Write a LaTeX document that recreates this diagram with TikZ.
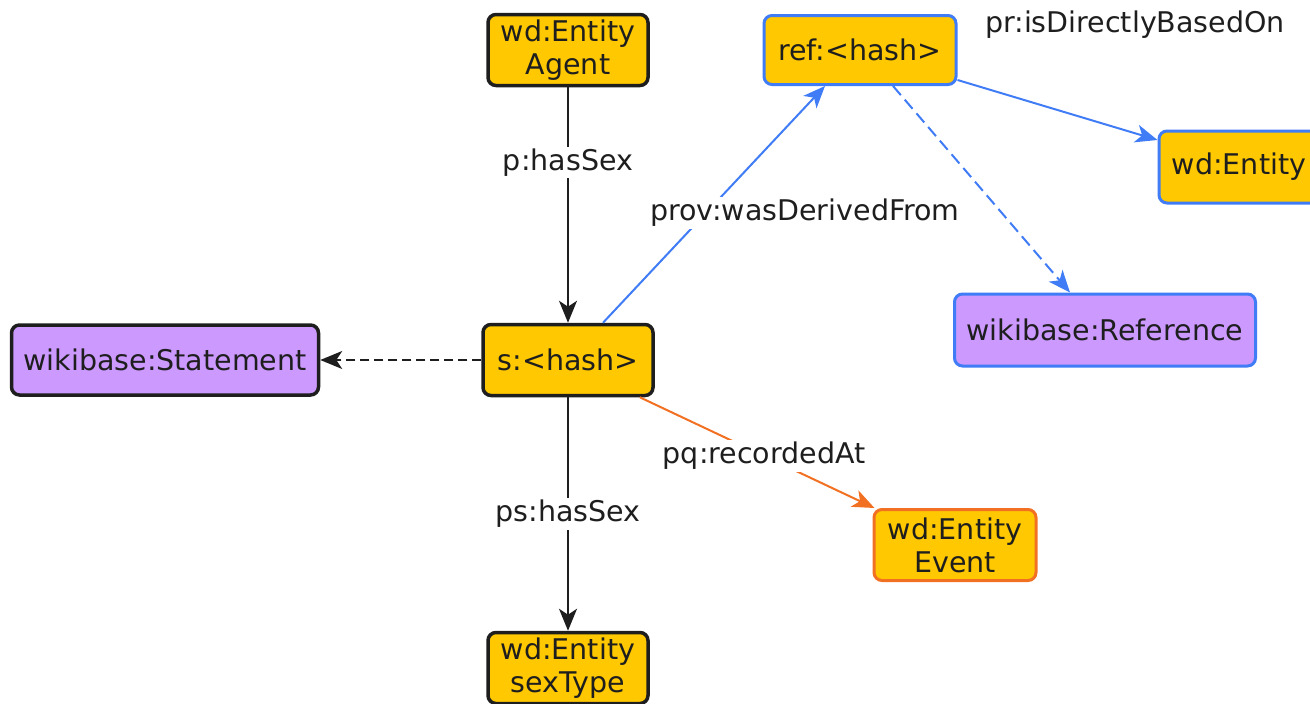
\documentclass[tikz,border=0pt]{standalone}
\usepackage{fontspec}
\setmainfont{DejaVu Sans}
\usetikzlibrary{arrows.meta}
\definecolor{gold}{HTML}{FFC800}
\definecolor{lilac}{HTML}{CC99FF}
\definecolor{edgeblue}{HTML}{3F7CF5}
\definecolor{edgeorange}{HTML}{F27022}
\definecolor{ink}{HTML}{1E1E1E}
\tikzset{
  box/.style={draw=ink, line width=3.5pt, rounded corners=8pt, align=center,
    inner sep=1pt, text=ink, font=\fontsize{28.5}{33}\selectfont},
  goldbox/.style={box, fill=gold},
  lilacbox/.style={box, fill=lilac},
  bluebox/.style={draw=edgeblue, line width=3pt},
  orangebox/.style={draw=edgeorange, line width=3pt},
  tip/.style={-{Stealth[length=22pt,width=18pt,inset=6pt]}},
  link/.style={tip, line width=2pt},
  lbl/.style={fill=white, inner sep=2pt, text=ink, font=\fontsize{28.5}{33}\selectfont}
}
\begin{document}
\begin{tikzpicture}[x=1pt,y=-1pt]
  \useasboundingbox (0,0) rectangle (1310,704);
  \clip (0,0) rectangle (1310,704);

  % resources
  \node[goldbox, minimum width=160pt, minimum height=71pt] (agent) at (568,50) {wd:Entity\\Agent};
  \node[goldbox, bluebox, minimum width=192pt, minimum height=69pt] (ref) at (860,50) {ref:<hash>};
  \node[goldbox, bluebox, minimum width=160pt, minimum height=72pt] (ent) at (1239,167) {wd:Entity};
  \node[lilacbox, bluebox, minimum width=301pt, minimum height=72pt] (refcls) at (1105,330) {wikibase:Reference};
  \node[lilacbox, minimum width=307pt, minimum height=70pt] (stmtcls) at (165,360) {wikibase:Statement};
  \node[goldbox, minimum width=170pt, minimum height=71pt] (stmt) at (568,360) {s:<hash>};
  \node[goldbox, orangebox, minimum width=162pt, minimum height=71pt] (event) at (955,545) {wd:Entity\\Event};
  \node[goldbox, minimum width=160pt, minimum height=71pt] (sex) at (568,668) {wd:Entity\\sexType};

  % statement links
  \draw[link, draw=ink] (agent.south) -- node[lbl, pos=0.32] (l1) {p:hasSex} (stmt.north);
  \draw[link, draw=ink] (stmt.south) -- node[lbl, pos=0.5] (l2) {ps:hasSex} (sex.north);
  \draw[link, draw=ink, dashed, dash pattern=on 9pt off 5pt] (stmt.west) -- (stmtcls.east);
  \draw[link, draw=edgeorange] ([xshift=-15pt]stmt.south east) -- node[lbl, pos=0.53] (l3) {pq:recordedAt} ([xshift=2pt]event.north west);

  % reference links
  \draw[link, draw=edgeblue] ([xshift=35pt]stmt.north) -- ([xshift=-35pt]ref.south);
  \node[lbl] (l4) at (805,213) {prov:wasDerivedFrom};
  \draw[link, draw=edgeblue] ([yshift=-30pt]ref.east) -- ([yshift=27pt]ent.west);
  \node[lbl] (l5) at (1135,25) {pr:isDirectlyBasedOn};
  \draw[link, draw=edgeblue, dashed, dash pattern=on 12pt off 6pt] ([xshift=33pt]ref.south) -- ([xshift=-35pt]refcls.north);
\end{tikzpicture}
\end{document}
